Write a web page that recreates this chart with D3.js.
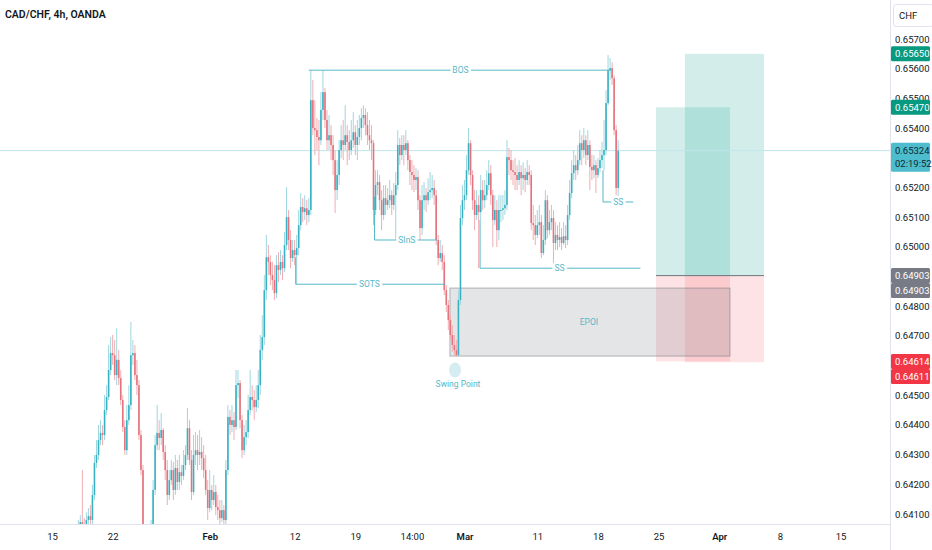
<!DOCTYPE html>
<html>
<head>
<meta charset="utf-8">
<script src="https://cdn.jsdelivr.net/npm/d3@7"></script>
<style>
	body { margin: 0; background: #fff; }
	svg { display: block; font-family: Roboto, "Noto Sans", sans-serif; }
</style>
</head>
<body>
<div id="chart"></div>
<script>
// 4h bars, index 0 = Mon Jan 15
const firstBar = 13;
const firstOpen = 0.64046;

const closes = [
	0.64053, 0.64073, 0.64066, 0.64059, 0.64080, 0.64093, 0.64080,
	0.64164, 0.64272, 0.64299, 0.64349, 0.64373, 0.64366, 0.64450, 0.64494, 0.64585, 0.64642,
	0.64635, 0.64568, 0.64619, 0.64558, 0.64484, 0.64393, 0.64315, 0.64416, 0.64467, 0.64635,
	0.64642, 0.64568, 0.64534, 0.64366, 0.64248, 0.64046, 0.63995, 0.63945, 0.63979, 0.64046,
	0.64181, 0.64332, 0.64373, 0.64356, 0.64383, 0.64309, 0.64248, 0.64164, 0.64214, 0.64248,
	0.64181, 0.64255, 0.64208, 0.64241, 0.64228, 0.64265, 0.64299, 0.64389, 0.64282, 0.64174,
	0.64299, 0.64315, 0.64299, 0.64309, 0.64288, 0.64248, 0.64181, 0.64120, 0.64181, 0.64147,
	0.64174, 0.64123, 0.64113, 0.64086, 0.64113, 0.64080, 0.64248, 0.64427, 0.64400, 0.64416,
	0.64393, 0.64534, 0.64541, 0.64416, 0.64315, 0.64359, 0.64376, 0.64450, 0.64494, 0.64484,
	0.64460, 0.64484, 0.64534, 0.64652, 0.64696, 0.64854, 0.64965, 0.64949, 0.64905, 0.64888,
	0.64844, 0.64938, 0.64922, 0.64949, 0.64928, 0.65006, 0.65100, 0.65023, 0.64962, 0.64989,
	0.64972, 0.64996, 0.65073, 0.65134, 0.65117, 0.65130, 0.65107, 0.65124, 0.65494, 0.65400,
	0.65393, 0.65370, 0.65359, 0.65461, 0.65521, 0.65427, 0.65359, 0.65376, 0.65343, 0.65292,
	0.65191, 0.65242, 0.65326, 0.65359, 0.65343, 0.65376, 0.65353, 0.65326, 0.65359, 0.65386,
	0.65343, 0.65370, 0.65400, 0.65434, 0.65444, 0.65410, 0.65376, 0.65359, 0.65349, 0.65124,
	0.65208, 0.65218, 0.65157, 0.65107, 0.65164, 0.65141, 0.65157, 0.65174, 0.65141, 0.65174,
	0.65208, 0.65343, 0.65309, 0.65343, 0.65326, 0.65349, 0.65292, 0.65252, 0.65242, 0.65225,
	0.65235, 0.65157, 0.65063, 0.65157, 0.65174, 0.65157, 0.65184, 0.65191, 0.65198, 0.65174,
	0.65023, 0.64962, 0.64979, 0.64949, 0.64854, 0.64804, 0.64753, 0.64703, 0.64669, 0.64652,
	0.64635, 0.64821, 0.65097, 0.65157, 0.65174, 0.65258, 0.65349, 0.65242, 0.65157, 0.65107,
	0.65141, 0.65117, 0.65191, 0.65157, 0.65174, 0.65208, 0.65248, 0.65174, 0.65090, 0.65124,
	0.65056, 0.65124, 0.65124, 0.65130, 0.65141, 0.65302, 0.65292, 0.65258, 0.65252, 0.65242,
	0.65225, 0.65252, 0.65231, 0.65242, 0.65225, 0.65252, 0.65242, 0.65080, 0.65073, 0.65040,
	0.65073, 0.65083, 0.64979, 0.65023, 0.65157, 0.65056, 0.65083, 0.65097, 0.65013, 0.65040,
	0.65023, 0.65033, 0.65013, 0.65036, 0.65023, 0.65107, 0.65181, 0.65248, 0.65275, 0.65258,
	0.65292, 0.65349, 0.65326, 0.65359, 0.65309, 0.65343, 0.65269, 0.65258, 0.65275, 0.65242,
	0.65265, 0.65292, 0.65309, 0.65326, 0.65484, 0.65595, 0.65602, 0.65568, 0.65393, 0.65198,
	0.65324
];

const highs = [
	0.64080, 0.64096, 0.64248, 0.64086, 0.64106, 0.64120, 0.64130,
	0.64198, 0.64299, 0.64349, 0.64400, 0.64416, 0.64400, 0.64501, 0.64534, 0.64669, 0.64696,
	0.64703, 0.64686, 0.64726, 0.64652, 0.64585, 0.64501, 0.64416, 0.64467, 0.64534, 0.64747,
	0.64686, 0.64669, 0.64619, 0.64551, 0.64383, 0.64265, 0.64063, 0.64012, 0.64012, 0.64080,
	0.64214, 0.64366, 0.64467, 0.64416, 0.64440, 0.64389, 0.64332, 0.64282, 0.64248, 0.64282,
	0.64275, 0.64299, 0.64282, 0.64299, 0.64265, 0.64315, 0.64332, 0.64457, 0.64416, 0.64315,
	0.64366, 0.64376, 0.64366, 0.64383, 0.64359, 0.64332, 0.64299, 0.64214, 0.64248, 0.64198,
	0.64231, 0.64198, 0.64164, 0.64147, 0.64147, 0.64130, 0.64282, 0.64467, 0.64450, 0.64467,
	0.64443, 0.64585, 0.64585, 0.64551, 0.64433, 0.64400, 0.64416, 0.64501, 0.64585, 0.64534,
	0.64517, 0.64534, 0.64585, 0.64703, 0.64770, 0.64905, 0.65040, 0.65006, 0.64972, 0.64949,
	0.64938, 0.64972, 0.64982, 0.64989, 0.64972, 0.65050, 0.65201, 0.65124, 0.65056, 0.65023,
	0.65023, 0.65040, 0.65124, 0.65181, 0.65164, 0.65174, 0.65157, 0.65164, 0.65595, 0.65562,
	0.65494, 0.65434, 0.65427, 0.65521, 0.65595, 0.65535, 0.65461, 0.65444, 0.65410, 0.65376,
	0.65326, 0.65292, 0.65359, 0.65410, 0.65427, 0.65477, 0.65410, 0.65393, 0.65427, 0.65454,
	0.65410, 0.65427, 0.65444, 0.65467, 0.65477, 0.65467, 0.65454, 0.65427, 0.65410, 0.65359,
	0.65258, 0.65258, 0.65242, 0.65191, 0.65208, 0.65208, 0.65198, 0.65225, 0.65191, 0.65215,
	0.65252, 0.65393, 0.65366, 0.65376, 0.65376, 0.65393, 0.65359, 0.65309, 0.65292, 0.65275,
	0.65265, 0.65258, 0.65174, 0.65208, 0.65218, 0.65198, 0.65231, 0.65252, 0.65242, 0.65225,
	0.65191, 0.65040, 0.65023, 0.65006, 0.64972, 0.64871, 0.64821, 0.64770, 0.64736, 0.64703,
	0.64686, 0.64854, 0.65141, 0.65208, 0.65225, 0.65309, 0.65400, 0.65359, 0.65258, 0.65191,
	0.65191, 0.65174, 0.65242, 0.65225, 0.65225, 0.65258, 0.65292, 0.65275, 0.65191, 0.65174,
	0.65157, 0.65174, 0.65174, 0.65174, 0.65191, 0.65359, 0.65333, 0.65326, 0.65292, 0.65299,
	0.65275, 0.65292, 0.65275, 0.65285, 0.65265, 0.65292, 0.65275, 0.65258, 0.65141, 0.65107,
	0.65124, 0.65141, 0.65107, 0.65073, 0.65191, 0.65174, 0.65124, 0.65141, 0.65124, 0.65083,
	0.65073, 0.65083, 0.65063, 0.65083, 0.65073, 0.65141, 0.65225, 0.65292, 0.65326, 0.65309,
	0.65343, 0.65393, 0.65376, 0.65400, 0.65376, 0.65393, 0.65359, 0.65309, 0.65309, 0.65292,
	0.65299, 0.65326, 0.65353, 0.65427, 0.65528, 0.65646, 0.65636, 0.65622, 0.65578, 0.65410,
	0.65359
];

const lows = [
	0.64012, 0.64039, 0.64053, 0.64039, 0.64046, 0.64066, 0.64066,
	0.64066, 0.64147, 0.64255, 0.64282, 0.64332, 0.64332, 0.64349, 0.64433, 0.64484, 0.64568,
	0.64602, 0.64551, 0.64534, 0.64534, 0.64467, 0.64376, 0.64299, 0.64299, 0.64400, 0.64450,
	0.64602, 0.64551, 0.64501, 0.64349, 0.64231, 0.64012, 0.63962, 0.63911, 0.63928, 0.63962,
	0.64029, 0.64164, 0.64315, 0.64315, 0.64332, 0.64282, 0.64214, 0.64130, 0.64147, 0.64198,
	0.64147, 0.64164, 0.64181, 0.64181, 0.64198, 0.64214, 0.64248, 0.64282, 0.64265, 0.64147,
	0.64164, 0.64265, 0.64248, 0.64265, 0.64248, 0.64221, 0.64164, 0.64080, 0.64106, 0.64113,
	0.64130, 0.64096, 0.64080, 0.64053, 0.64073, 0.64046, 0.64063, 0.64231, 0.64366, 0.64376,
	0.64349, 0.64383, 0.64491, 0.64389, 0.64288, 0.64299, 0.64332, 0.64356, 0.64433, 0.64450,
	0.64416, 0.64443, 0.64457, 0.64501, 0.64619, 0.64669, 0.64821, 0.64905, 0.64871, 0.64854,
	0.64821, 0.64827, 0.64881, 0.64905, 0.64888, 0.64915, 0.64989, 0.64989, 0.64928, 0.64949,
	0.64938, 0.64874, 0.64972, 0.65056, 0.65083, 0.65090, 0.65073, 0.65083, 0.65107, 0.65376,
	0.65309, 0.65326, 0.65275, 0.65343, 0.65427, 0.65400, 0.65326, 0.65326, 0.65292, 0.65242,
	0.65114, 0.65157, 0.65208, 0.65299, 0.65292, 0.65326, 0.65275, 0.65292, 0.65309, 0.65333,
	0.65309, 0.65292, 0.65343, 0.65359, 0.65400, 0.65376, 0.65343, 0.65326, 0.65292, 0.65073,
	0.65107, 0.65174, 0.65124, 0.65056, 0.65090, 0.65107, 0.65124, 0.65130, 0.65107, 0.65124,
	0.65023, 0.65191, 0.65275, 0.65292, 0.65275, 0.65309, 0.65258, 0.65208, 0.65191, 0.65184,
	0.65191, 0.65124, 0.65023, 0.65040, 0.65124, 0.65117, 0.65141, 0.65157, 0.65164, 0.65141,
	0.65006, 0.64938, 0.64949, 0.64922, 0.64837, 0.64780, 0.64720, 0.64686, 0.64646, 0.64635,
	0.64629, 0.64632, 0.64804, 0.65073, 0.65124, 0.65157, 0.65242, 0.65208, 0.65124, 0.65056,
	0.65090, 0.64928, 0.65090, 0.65124, 0.65130, 0.65157, 0.65191, 0.65141, 0.64999, 0.65073,
	0.64999, 0.65023, 0.65083, 0.65090, 0.65107, 0.65124, 0.65242, 0.65225, 0.65208, 0.65191,
	0.65191, 0.65208, 0.65174, 0.65191, 0.65184, 0.65208, 0.65208, 0.65056, 0.65023, 0.65006,
	0.65029, 0.65040, 0.64962, 0.64972, 0.65006, 0.65029, 0.65040, 0.65056, 0.64928, 0.64989,
	0.64989, 0.64999, 0.64989, 0.65006, 0.64996, 0.65006, 0.65090, 0.65164, 0.65225, 0.65225,
	0.65242, 0.65275, 0.65275, 0.65299, 0.65275, 0.65292, 0.65191, 0.65225, 0.65231, 0.65181,
	0.65231, 0.65252, 0.65265, 0.65258, 0.65309, 0.65477, 0.65562, 0.65545, 0.65376, 0.65174,
	0.65168
];

const timeTicks = [0, 30, 78, 120, 150, 178, 204, 240, 270, 300, 330, 360, 390];
const timeLabels = ["15", "22", "Feb", "12", "19", "14:00", "Mar", "11", "18", "25", "Apr", "8", "15"];
const monthLabels = ["Feb", "Mar", "Apr"];
const priceTicks = [0.641, 0.642, 0.643, 0.644, 0.645, 0.646, 0.647, 0.648, 0.649,
	0.650, 0.651, 0.652, 0.653, 0.654, 0.655, 0.656, 0.657];

// structure drawings: name, level, bar from/to, top of the leg, label bar
const levelNames = ["BOS", "SInS", "SOTS", "SS", "SS"];
const levelPrices = [0.65595, 0.65023, 0.64874, 0.64928, 0.65151];
const levelFrom = [127, 159.5, 120.5, 211.7, 272.5];
const levelTo = [276.5, 190.5, 194.5, 291, 287.5];
const levelLeg = [0.65595, 0.65168, 0.64965, 0.65090, 0.65258];
const levelLabelAt = [202, 175.5, 157, 251, 280];

const zoneName = "EPOI";
const zoneBars = [196.8, 335.3];
const zonePrices = [0.64861, 0.64632];
const swingName = "Swing Point";
const swingBar = 199.3;
const swingPrice = 0.64585;

// two long positions
const entryPrice = 0.64903;
const posFrom = [298.7, 313];
const posTo = [335.3, 352.1];
const posTarget = [0.65470, 0.65650];
const posStop = [0.64614, 0.64611];

const lastPrice = 0.65324;
const countdown = "02:19:52";
const title = "CAD/CHF, 4h, OANDA";
const currency = "CHF";

function candleChart(element) {
	const W = 932, H = 550;
	const plotW = 890, plotH = 524;
	const upColor = "#38b2c3", downColor = "#e5737d";
	const upWick = "#9fd6de", downWick = "#f0adb3";
	const drawColor = "#56b8c6";
	const badgeH = 15;

	let bars = closes.map((c, k) => {
		let o = k ? closes[k - 1] : firstOpen;
		return {
			i: firstBar + k, o: o, c: c,
			h: Math.max(highs[k], o, c),
			l: Math.min(lows[k], o, c)
		};
	});

	// set the ranges
	let x = d3.scaleLinear().domain([0, 390]).range([52, 840.6]);
	let y = d3.scaleLinear().domain([0.641, 0.657]).range([514, 39]);

	// price badges, stacked when they collide
	let badges = [
		{p: posTarget[1], bg: "#089981", fg: "#fff"},
		{p: posTarget[0], bg: "#089981", fg: "#fff"},
		{p: entryPrice, bg: "#787b86", fg: "#fff"},
		{p: entryPrice, bg: "#787b86", fg: "#fff"},
		{p: posStop[0], bg: "#f23645", fg: "#fff"},
		{p: posStop[1], bg: "#f23645", fg: "#fff"}
	].sort((a, b) => b.p - a.p);

	let prev = -Infinity;
	badges.forEach(b => {
		b.y = Math.max(y(b.p), prev + badgeH);
		prev = b.y;
	});

	// areas of the price scale covered by badges
	let covered = badges.map(b => [b.y - badgeH / 2, b.y + badgeH / 2]);
	covered.push([y(lastPrice) - 8, y(lastPrice) + 21]);
	let shownTicks = priceTicks.filter(t => {
		let a = y(t) - 4, b = y(t) + 4;
		return !covered.some(c => Math.min(b, c[1]) - Math.max(a, c[0]) > 3);
	});

	let svg = d3.select(element)
		.append("svg")
		.attr("width", W)
		.attr("height", H);

	svg.append("clipPath")
		.attr("id", "plot-clip")
		.append("rect")
		.attr("width", plotW)
		.attr("height", plotH);

	let plot = svg.append("g").attr("clip-path", "url(#plot-clip)");

	// position tools
	posFrom.forEach((f, k) => {
		plot.append("rect")
			.attr("x", x(f)).attr("width", x(posTo[k]) - x(f))
			.attr("y", y(posTarget[k])).attr("height", y(entryPrice) - y(posTarget[k]))
			.attr("fill", "rgba(34,171,148,0.2)");
		plot.append("rect")
			.attr("x", x(f)).attr("width", x(posTo[k]) - x(f))
			.attr("y", y(entryPrice)).attr("height", y(posStop[k]) - y(entryPrice))
			.attr("fill", "rgba(242,54,69,0.14)");
	});
	plot.append("line")
		.attr("x1", x(d3.min(posFrom))).attr("x2", x(d3.max(posTo)))
		.attr("y1", y(entryPrice)).attr("y2", y(entryPrice))
		.attr("stroke", "#6f737f").attr("stroke-width", 1);

	// EPOI zone
	plot.append("rect")
		.attr("x", x(zoneBars[0])).attr("width", x(zoneBars[1]) - x(zoneBars[0]))
		.attr("y", y(zonePrices[0])).attr("height", y(zonePrices[1]) - y(zonePrices[0]))
		.attr("fill", "rgba(120,123,134,0.2)")
		.attr("stroke", "rgba(120,123,134,0.55)");
	plot.append("text")
		.attr("x", x((zoneBars[0] + zoneBars[1]) / 2 - 0.5))
		.attr("y", y((zonePrices[0] + zonePrices[1]) / 2))
		.attr("dy", "0.35em")
		.attr("text-anchor", "middle")
		.attr("font-size", 8.5)
		.attr("fill", drawColor)
		.text(zoneName);

	// last price line
	plot.append("line")
		.attr("x1", 0).attr("x2", plotW)
		.attr("y1", y(lastPrice)).attr("y2", y(lastPrice))
		.attr("stroke", "#bfe6ec").attr("stroke-width", 1);

	// candles
	let candle = plot.selectAll(".candle")
		.data(bars)
		.enter().append("g")
		.attr("class", "candle");

	candle.append("line")
		.attr("x1", d => x(d.i)).attr("x2", d => x(d.i))
		.attr("y1", d => y(d.h)).attr("y2", d => y(d.l))
		.attr("stroke", d => d.c >= d.o ? upWick : downWick)
		.attr("stroke-width", 1);

	candle.append("rect")
		.attr("x", d => x(d.i) - 0.8)
		.attr("width", 1.6)
		.attr("y", d => y(Math.max(d.o, d.c)))
		.attr("height", d => Math.max(1, Math.abs(y(d.o) - y(d.c))))
		.attr("fill", d => d.c >= d.o ? upColor : downColor);

	// structure levels
	levelNames.forEach((name, k) => {
		let g = plot.append("g").attr("stroke", drawColor);
		g.append("line")
			.attr("x1", x(levelFrom[k])).attr("x2", x(levelTo[k]))
			.attr("y1", y(levelPrices[k])).attr("y2", y(levelPrices[k]));
		g.append("line")
			.attr("x1", x(levelFrom[k])).attr("x2", x(levelFrom[k]))
			.attr("y1", y(levelLeg[k])).attr("y2", y(levelPrices[k]));
		plot.append("text")
			.attr("x", x(levelLabelAt[k]))
			.attr("y", y(levelPrices[k]))
			.attr("dy", "0.35em")
			.attr("text-anchor", "middle")
			.attr("font-size", 8.5)
			.attr("fill", drawColor)
			.attr("stroke", "#fff").attr("stroke-width", 5)
			.attr("paint-order", "stroke")
			.text(name);
	});

	// swing point
	plot.append("ellipse")
		.attr("cx", x(swingBar)).attr("cy", y(swingPrice))
		.attr("rx", 6).attr("ry", 7.5)
		.attr("fill", "rgba(86,184,198,0.25)");
	plot.append("text")
		.attr("x", x(swingBar) + 3)
		.attr("y", y(swingPrice) + 17)
		.attr("text-anchor", "middle")
		.attr("font-size", 8.5)
		.attr("fill", drawColor)
		.text(swingName);

	// title
	svg.append("text")
		.attr("x", 5).attr("y", 18)
		.attr("font-size", 10.5)
		.attr("font-weight", 600)
		.attr("fill", "#131722")
		.text(title);

	// axes frame
	svg.append("line")
		.attr("x1", plotW + 0.5).attr("x2", plotW + 0.5)
		.attr("y1", 0).attr("y2", H)
		.attr("stroke", "#e0e3eb");
	svg.append("line")
		.attr("x1", 0).attr("x2", plotW)
		.attr("y1", plotH + 0.5).attr("y2", plotH + 0.5)
		.attr("stroke", "#e0e3eb");

	// Add the price axis
	svg.append("g")
		.attr("class", "yAxis")
		.attr("transform", "translate(" + plotW + ",0)")
		.call(d3.axisRight(y)
			.tickValues(shownTicks)
			.tickSize(0)
			.tickPadding(5)
			.tickFormat(d3.format(".5f")))
		.call(g => g.select(".domain").remove())
		.call(g => g.selectAll("text")
			.attr("font-family", "Roboto, sans-serif")
			.attr("font-size", 9.5)
			.attr("fill", "#131722"));

	// Add the time axis
	svg.append("g")
		.attr("class", "xAxis")
		.attr("transform", "translate(0," + plotH + ")")
		.call(d3.axisBottom(x)
			.tickValues(timeTicks)
			.tickSize(0)
			.tickPadding(9)
			.tickFormat((d, k) => timeLabels[k]))
		.call(g => g.select(".domain").remove())
		.call(g => g.selectAll("text")
			.attr("font-family", "Roboto, sans-serif")
			.attr("font-size", 9.5)
			.attr("font-weight", (d, k) => monthLabels.includes(timeLabels[k]) ? 600 : 400)
			.attr("fill", "#131722"));

	// currency button
	svg.append("rect")
		.attr("x", plotW + 3.5).attr("y", 4.5)
		.attr("width", 40).attr("height", 22)
		.attr("rx", 3)
		.attr("fill", "#fff")
		.attr("stroke", "#e0e3eb");
	svg.append("text")
		.attr("x", plotW + 9).attr("y", 19)
		.attr("font-size", 9.5)
		.attr("fill", "#131722")
		.text(currency);

	let badge = svg.selectAll(".badge")
		.data(badges)
		.enter().append("g")
		.attr("class", "badge")
		.attr("transform", d => "translate(" + (plotW + 1) + "," + d.y + ")");
	badge.append("rect")
		.attr("y", -badgeH / 2).attr("width", 39).attr("height", badgeH)
		.attr("rx", 1.5)
		.attr("fill", d => d.bg);
	badge.append("text")
		.attr("x", 4).attr("dy", "0.35em")
		.attr("font-size", 9.5)
		.attr("fill", d => d.fg)
		.text(d => d3.format(".5f")(d.p));

	// last price badge with countdown
	let last = svg.append("g")
		.attr("transform", "translate(" + (plotW + 1) + "," + y(lastPrice) + ")");
	last.append("rect")
		.attr("y", -8).attr("width", 39).attr("height", 29)
		.attr("rx", 1.5)
		.attr("fill", "#4dbccc");
	last.append("text")
		.attr("x", 4).attr("dy", "0.35em")
		.attr("font-size", 9.5)
		.attr("fill", "#0f2a33")
		.text(d3.format(".5f")(lastPrice));
	last.append("text")
		.attr("x", 4).attr("y", 13).attr("dy", "0.35em")
		.attr("font-size", 9.5)
		.attr("fill", "#0f2a33")
		.text(countdown);
}

candleChart(document.getElementById("chart"));
</script>
</body>
</html>
